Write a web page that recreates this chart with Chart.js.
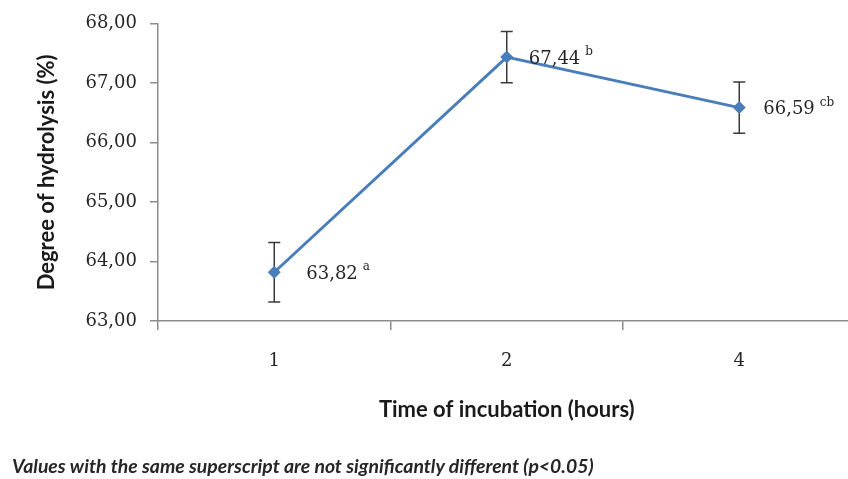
<!DOCTYPE html>
<html>
<head>
<meta charset="utf-8">
<script src="https://cdn.jsdelivr.net/npm/chart.js@4"></script>
<style>
html, body { margin: 0; padding: 0; background: #fff; overflow: hidden; width: 848px; height: 479px; }
#wrap { position: absolute; left: 0; top: 0; width: 862px; height: 479px; }
#note { position: absolute; left: 12px; top: 455px; font: italic bold 19.4px Lato, sans-serif; line-height: 22px; color: #262626; white-space: nowrap; }
</style>
</head>
<body>
<div id="wrap"><canvas id="myChart"></canvas></div>
<div id="note">Values with the same superscript are not significantly different (p&lt;0.05)</div>
<script>
const hours = ['1', '2', '4'];
const hydrolysis = [63.82, 67.44, 66.59];
const errors = [0.5, 0.43, 0.43];
const letters = ['a', 'b', 'cb'];
const yMin = 63;
const yMax = 68;

const lineColor = '#4a7ebb';
const axisColor = '#8c8c8c';
const numFont = 'DejaVu Serif';

function fmt(v) {
    return v.toFixed(2).replace('.', ',');
}

// error bars under the line
const errorBars = {
    id: 'errorBars',
    beforeDatasetsDraw(chart) {
        const ctx = chart.ctx;
        const meta = chart.getDatasetMeta(0);
        const y = chart.scales.y;
        ctx.save();
        ctx.strokeStyle = '#3a3a3a';
        ctx.lineWidth = 1.5;
        meta.data.forEach((pt, i) => {
            const top = y.getPixelForValue(hydrolysis[i] + errors[i]);
            const bot = y.getPixelForValue(hydrolysis[i] - errors[i]);
            ctx.beginPath();
            ctx.moveTo(pt.x, top);
            ctx.lineTo(pt.x, bot);
            ctx.moveTo(pt.x - 6, top);
            ctx.lineTo(pt.x + 6, top);
            ctx.moveTo(pt.x - 6, bot);
            ctx.lineTo(pt.x + 6, bot);
            ctx.stroke();
        });
        ctx.restore();
    }
};

// value labels with superscript letters
const valueLabels = {
    id: 'valueLabels',
    afterDatasetsDraw(chart) {
        const ctx = chart.ctx;
        const meta = chart.getDatasetMeta(0);
        const shifts = [32, 22, 24];
        ctx.save();
        ctx.fillStyle = '#262626';
        ctx.textBaseline = 'middle';
        ctx.textAlign = 'left';
        meta.data.forEach((pt, i) => {
            const txt = fmt(hydrolysis[i]);
            const x = pt.x + shifts[i];
            ctx.font = '18px "' + numFont + '"';
            ctx.fillText(txt, x, pt.y + 2);
            const w = ctx.measureText(txt).width;
            ctx.font = '12px "' + numFont + '"';
            ctx.fillText(letters[i], x + w + 5, pt.y - 5);
        });
        ctx.restore();
    }
};

const ctx = document.getElementById('myChart').getContext('2d');
const chart = new Chart(ctx, {
    type: 'line',
    data: {
        labels: hours,
        datasets: [{
            data: hydrolysis,
            borderColor: lineColor,
            backgroundColor: lineColor,
            borderWidth: 3,
            pointStyle: 'rectRot',
            pointRadius: 6.5,
            pointBorderWidth: 0,
            tension: 0
        }]
    },
    options: {
        responsive: true,
        maintainAspectRatio: false,
        animation: false,
        devicePixelRatio: 1,
        layout: { padding: { left: 0, right: 2, top: 18, bottom: 56 } },
        plugins: {
            legend: { display: false },
            tooltip: { enabled: false }
        },
        scales: {
            x: {
                type: 'category',
                offset: true,
                border: { color: axisColor, width: 1.5 },
                grid: { display: true, offset: true, drawOnChartArea: false, drawTicks: true, tickLength: 9, color: axisColor, lineWidth: 1.5 },
                ticks: { color: '#262626', padding: 21, font: { family: numFont, size: 18 } },
                title: { display: true, text: 'Time of incubation (hours)', color: '#1a1a1a', padding: { top: 3, bottom: 0 }, font: { family: 'Lato', weight: 'bold', size: 22 } }
            },
            y: {
                min: yMin,
                max: yMax,
                border: { color: axisColor, width: 1.5 },
                grid: { display: true, drawOnChartArea: false, drawTicks: true, tickLength: 8, color: axisColor, lineWidth: 1.5 },
                ticks: { stepSize: 1, color: '#262626', padding: 13, font: { family: numFont, size: 18 }, callback: v => fmt(v) },
                title: { display: true, text: 'Degree of hydrolysis (%)', color: '#1a1a1a', padding: { top: 34, bottom: 0 }, font: { family: 'Lato', weight: 'bold', size: 22 } },
                afterFit(scale) { scale.width = 158; }
            }
        }
    },
    plugins: [errorBars, valueLabels]
});
</script>
</body>
</html>
